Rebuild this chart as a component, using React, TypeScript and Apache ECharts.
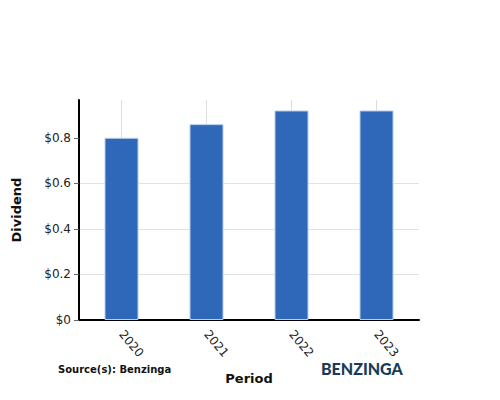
import React, { useEffect, useRef } from "react";
import * as echarts from "echarts";

const categories = ["2020", "2021", "2022", "2023"];
const dividends = [0.8, 0.86, 0.92, 0.92];
const yTicks = [0, 0.2, 0.4, 0.6, 0.8];
const yMax = 0.966;

export default function App() {
  const ref = useRef<HTMLDivElement>(null);
  useEffect(() => {
    document.body.style.margin = "0";
    const chart = echarts.init(ref.current!, null, { renderer: "svg" });
    chart.setOption({
      animation: false,
      backgroundColor: "#ffffff",
      textStyle: { fontFamily: "DejaVu Sans" },
      grid: { left: 79, right: 81, top: 100, bottom: 80 },
      xAxis: {
        type: "category",
        data: categories,
        name: "Period",
        nameLocation: "middle",
        nameGap: 52,
        nameTextStyle: { fontSize: 13, fontWeight: "bold", color: "#111" },
        axisLine: { lineStyle: { color: "#000", width: 2 } },
        axisTick: { alignWithLabel: true, length: 5, lineStyle: { color: "#333" } },
        axisLabel: { rotate: -50, fontSize: 12, color: "#222", margin: 12 },
        splitLine: { show: true, alignWithLabel: true, lineStyle: { color: "#dddddd", width: 1 } },
      },
      yAxis: {
        type: "value",
        min: 0,
        max: yMax,
        interval: 0.2,
        name: "Dividend",
        nameLocation: "middle",
        nameGap: 56,
        nameTextStyle: { fontSize: 13, fontWeight: "bold", color: "#111" },
        axisLine: { show: true, lineStyle: { color: "#000", width: 2 } },
        axisTick: { show: true, length: 5, customValues: yTicks, lineStyle: { color: "#666" } },
        axisLabel: {
          fontSize: 12,
          color: "#222",
          margin: 8,
          customValues: yTicks,
          formatter: (v: number) => "$" + Math.round(v * 10) / 10,
        },
        splitLine: { show: true, showMaxLine: false, lineStyle: { color: "#e2e2e2", width: 1 } },
      },
      series: [
        {
          type: "bar",
          data: dividends,
          barWidth: "40%",
          itemStyle: { color: "#3068b9", borderColor: "#b8ccec", borderWidth: 1 },
        },
      ],
      graphic: [
        {
          type: "text",
          left: 58,
          top: 364,
          style: { text: "Source(s): Benzinga", font: "bold 10px 'DejaVu Sans'", fill: "#111" },
        },
        {
          type: "text",
          left: 321,
          top: 360,
          style: { text: "BENZINGA", font: "900 16px Lato", fill: "#173b5a" },
        },
      ],
    });
    return () => chart.dispose();
  }, []);
  return <div ref={ref} style={{ width: 500, height: 400 }} />;
}
